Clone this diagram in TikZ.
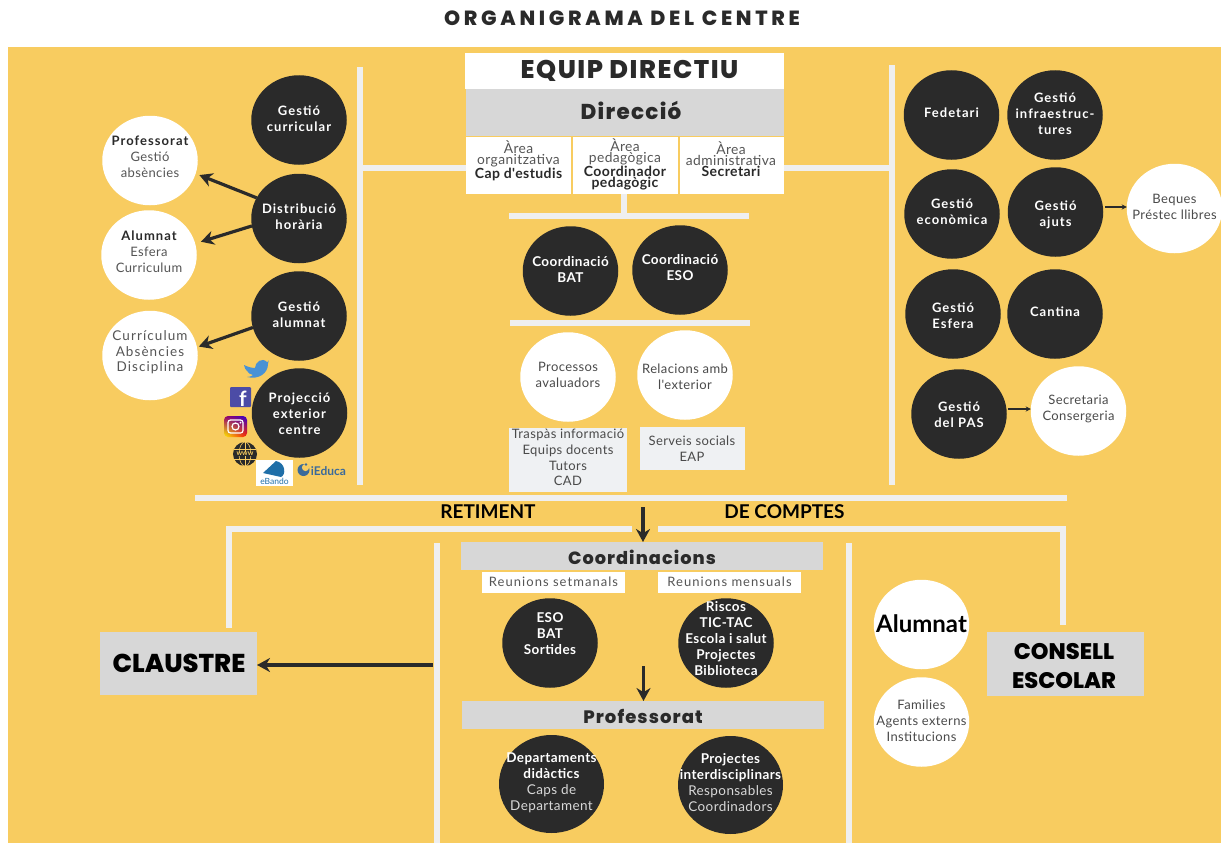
\documentclass[tikz,border=0pt]{standalone}
\usepackage{fontspec}
\setmainfont{Lato}
\newfontfamily\spaced[LetterSpace=8]{Lato}
\newfontfamily\body[LetterSpace=3]{Lato}
\newfontfamily\heavy[BoldFont={Poppins ExtraBold}]{Poppins}
\newfontfamily\heavysp[LetterSpace=6,BoldFont={Poppins ExtraBold}]{Poppins}
\newfontfamily\heavytt[LetterSpace=18,BoldFont={Poppins ExtraBold}]{Poppins}
\usetikzlibrary{arrows.meta,shadings,shapes.geometric}
\definecolor{bgy}{HTML}{F8CC60}
\definecolor{dark}{HTML}{2A2A2A}
\definecolor{barc}{HTML}{EFEFEF}
\definecolor{grayb}{HTML}{D7D7D7}
\definecolor{pale}{HTML}{EFF1F3}
\definecolor{soft}{HTML}{555555}
\definecolor{softw}{HTML}{D8D8D8}
\definecolor{ebl}{HTML}{1F6FA8}
\definecolor{ieb}{HTML}{3B6A9A}
\tikzset{
  x=1pt,y=-1pt,
  oval/.style={ellipse,inner sep=0,outer sep=0,minimum width=95.5pt,minimum height=89.5pt},
  dcirc/.style={oval,fill=dark},
  wcirc/.style={oval,fill=white},
  dbig/.style={oval,fill=dark,minimum width=105pt,minimum height=98pt},
  dtxt/.style={align=center,text=white,inner sep=0,font=\fontsize{13}{16}\spaced\bfseries},
  dtxtb/.style={align=center,text=white,inner sep=0,font=\fontsize{13.5}{16}\body\bfseries},
  wtxt/.style={align=center,text=soft,inner sep=0,font=\fontsize{13}{16}\body},
  wsp/.style={align=center,text=soft,inner sep=0,font=\fontsize{13.5}{15.5}\spaced},
  wtxtk/.style={align=center,text=dark!85,inner sep=0,font=\fontsize{13}{16}\body},
  bar/.style={line width=6pt,color=barc},
  thickarr/.style={line width=3.2pt,color=dark,-{Stealth[length=13pt,width=14pt]}},
  thinarr/.style={line width=1.3pt,color=dark,-{Stealth[length=5pt,width=5pt]}},
  lbl/.style={inner sep=0,align=center},
  areat/.style={lbl,font=\fontsize{13.8}{11}\body},
}
% name x y shape textstyle texty text
\newcommand\cnode[7]{%
  \node[#4] (#1) at (#2,#3) {};
  \node[#5] (#1-t) at (#2,#6) {#7};
}
\newcommand\rbox[6]{% name x0 y0 w h fill
  \node[inner sep=0,outer sep=0,fill=#6,minimum width=#4pt,minimum height=#5pt] (#1) at (#2+#4/2,#3+#5/2) {};
}
\newcommand\sft[1]{\textcolor{soft}{#1}}
\newcommand\bdk[1]{\textcolor{dark}{\fontsize{14}{11}\selectfont\bfseries #1}}
\begin{document}
\begin{tikzpicture}
\useasboundingbox (0,0) rectangle (1221,843);
\fill[white] (0,0) rectangle (1221,843);
\fill[bgy] (8,47) rectangle (1221,843);
\node[lbl,text=dark,font=\fontsize{20.5}{22}\heavytt\bfseries] (title) at (622,18) {ORGANIGRAMA DEL CENTRE};

% bars
\coordinate (hl) at (360,168); \coordinate (hr) at (892,168);
\coordinate (stem) at (624,216);
\coordinate (ay) at (1100,207); \coordinate (py) at (1010,409);
\draw[bar] (360,67) -- (360,485);
\draw[bar] (892,65) -- (892,485);
\draw[bar] (509,216) -- (749,216);
\draw[bar] (510,323) -- (750,323);
\draw[bar] (195,498) -- (1067,498);
\draw[bar] (632,529) -- (229,529) -- (229,628);
\draw[bar] (658,529) -- (1063,529) -- (1063,625);
\draw[bar] (436.5,543) -- (436.5,843);
\draw[bar] (849,543) -- (849,843);

% Equip directiu
\rbox{equip}{465}{53}{319}{36}{white}
\node[lbl,text=dark,font=\fontsize{25.5}{27}\heavysp\bfseries] (equip-t) at (629.5,71) {EQUIP DIRECTIU};
\rbox{dir}{466}{89}{318}{47}{grayb}
\node[lbl,text=dark,font=\fontsize{21.5}{23}\heavysp\bfseries] (dir-t) at (631,110) {Direcció};
\rbox{a1}{466}{137}{105}{57}{white}
\rbox{a2}{573}{137}{105}{57}{white}
\rbox{a3}{679.5}{137}{104.5}{57}{white}
\node[areat] (a1-t) at (518.5,161) {\sft{Àrea}\\\sft{organitzativa}\\\bdk{Cap d'estudis}};
\node[areat] (a2-t) at (625,164.5) {\sft{Àrea}\\\sft{pedagògica}\\\bdk{Coordinador}\\\bdk{pedagògic}};
\node[areat] (a3-t) at (731,159) {\sft{Àrea}\\\sft{administrativa}\\\bdk{Secretari}};
\draw[bar] (a1.west|-hl) -- (hl);
\draw[bar] (a3.east|-hr) -- (hr);
\draw[bar] (stem|-a2.south) -- (stem);

% left circles
\cnode{gc}{299}{120}{dcirc}{dtxt}{119}{Gestió\\curricular}
\cnode{dh}{299}{218.5}{dcirc}{dtxt}{217}{Distribució\\horària}
\cnode{ga}{299}{316}{dcirc}{dtxt}{315}{Gestió\\alumnat}
\cnode{pe}{299.5}{413}{dcirc}{dtxt}{413.5}{Projecció\\exterior\\centre}
\cnode{pf}{150}{160.5}{wcirc}{wtxt}{157}{\textcolor{dark}{\spaced\bfseries Professorat}\\Gestió\\absències}
\cnode{al}{149}{255}{wcirc}{wtxt}{251.5}{\textcolor{dark}{\spaced\bfseries Alumnat}\\Esfera\\Curriculum}
\cnode{cu}{150}{355.5}{wcirc}{wsp}{352.5}{Currículum\\Absències\\Disciplina}
\draw[thickarr,shorten >=4pt] (dh.154) -- (pf.344);
\draw[thickarr,shorten >=6pt] (dh.189) -- (al.14);
\draw[thickarr,shorten >=2pt] (ga.194) -- (cu.10);

% icons
\fill[cyan!60!blue!75!white] (244,365) .. controls (248,367) and (252,368) .. (255,368)
  .. controls (255,362) and (262,357) .. (267,362) .. controls (268,362) and (270,361) .. (268,360)
  .. controls (269,361) and (268,363) .. (268,364) .. controls (268,373) and (259,380) .. (247,377)
  .. controls (250,377) and (252,376) .. (253,375) .. controls (250,375) and (248,372) .. (248,372)
  .. controls (246,370) and (244,368) .. (244,365) -- cycle;
\fill[blue!50!black!70!white,rounded corners=1pt] (230,387) rectangle (251,407);
\node[lbl,text=white,font=\fontsize{21}{21}\selectfont\bfseries] (fb) at (243,399) {f};
\shade[rounded corners=4pt,lower left=yellow!90!orange,lower right=red!80!orange,upper right=blue!60!violet,upper left=violet!80!red] (224,416) rectangle (247,437);
\draw[white,line width=1.2pt,rounded corners=2.5pt] (228,420) rectangle (243,433);
\draw[white,line width=1.2pt] (235.5,426.5) circle (3.5);
\fill[white] (240.5,422.5) circle (1);
\fill[dark] (245,454) circle (12);
\begin{scope}[bgy,line width=.6pt]
\draw (245,442) -- (245,466); \draw (234,449) -- (256,449); \draw (234,459) -- (256,459);
\draw (245,454) ellipse (6 and 12);
\end{scope}
\node[lbl,text=bgy,font=\fontsize{7}{7}\selectfont\bfseries,fill=dark] (www) at (245,454) {www};
\rbox{eb}{256}{460}{37}{26}{white}
\fill[ebl] (263,473) -- (276,461) .. controls (286,463) and (286,475) .. (281,477) -- cycle;
\node[lbl,text=ebl,font=\fontsize{8.5}{8}\selectfont] (eb-t) at (274.5,481) {eBando};
\fill[ieb] (303.5,470) circle (6);
\fill[bgy] (305.5,467.5) circle (3.6);
\fill[ieb] (306,464.5) circle (1.3);
\node[lbl,text=ieb,font=\fontsize{12}{12}\selectfont\bfseries] (ie) at (328.5,471) {iEduca};

% right circles
\cnode{fe}{951.5}{115}{dcirc}{dtxt}{113}{Fedetari}
\cnode{in}{1055}{115}{dcirc}{dtxt}{113.5}{Gestió\\infraestruc-\\tures}
\cnode{ec}{952}{214}{dcirc}{dtxt}{212}{Gestió\\econòmica}
\cnode{aj}{1055.5}{212}{dcirc}{dtxt}{215}{Gestió\\ajuts}
\cnode{be}{1174.5}{208.5}{wcirc}{wtxtk}{207}{Beques\\Préstec llibres}
\cnode{es}{953}{314}{dcirc}{dtxt}{316}{Gestió\\Esfera}
\cnode{ca}{1055}{314}{dcirc}{dtxt}{312}{Cantina}
\cnode{pa}{959}{414}{dcirc}{dtxt}{415}{Gestió\\del PAS}
\cnode{se}{1078.5}{411}{wcirc}{wtxtk}{409}{Secretaria\\Consergeria}
\draw[thinarr,shorten <=2pt] (aj.east|-ay) -- (be.west|-ay);
\draw[thinarr,shorten <=1pt] (pa.east|-py) -- (se.west|-py);

% centre circles
\cnode{cb}{570.5}{271}{dcirc}{dtxtb}{269}{Coordinació\\BAT}
\cnode{ce}{680}{270}{dcirc}{dtxtb}{268}{Coordinació\\ESO}
\cnode{pr}{568}{377}{wcirc}{wtxtk}{375}{Processos\\avaluadors}
\cnode{re}{685}{375}{wcirc}{wtxtk}{376.5}{Relacions amb\\l'exterior}
\rbox{tr}{509}{428}{118}{64}{pale}
\rbox{ss}{640}{427}{105}{43}{pale}
\node[wtxtk,font=\fontsize{13}{15.7}\body] (tr-t) at (568,457.5) {Traspàs informació\\Equips docents\\Tutors\\CAD};
\node[wtxtk,font=\fontsize{13}{15.5}\body] (ss-t) at (692,448.5) {Serveis socials\\EAP};

% bottom
\node[lbl,text=black,font=\fontsize{19}{21}\selectfont\bfseries] (ret) at (488,512) {RETIMENT};
\node[lbl,text=black,font=\fontsize{19}{21}\selectfont\bfseries] (dec) at (784.5,512) {DE COMPTES};
\coordinate (arrtop) at (643,507);
\coordinate (vl) at (433,665);
\rbox{coo}{461}{542}{362}{28}{grayb}
\node[lbl,text=dark,font=\fontsize{17.7}{19}\heavysp\bfseries] (coo-t) at (642,557) {Coordinacions};
\rbox{rs}{482}{572}{143}{21}{white}
\node[wtxt,font=\fontsize{13}{16}\spaced] (rs-t) at (553.5,582) {Reunions setmanals};
\rbox{rm}{658}{572}{143}{21}{white}
\node[wtxt,font=\fontsize{13}{16}\spaced] (rm-t) at (729.5,582) {Reunions mensuals};
\draw[thickarr] (arrtop) -- (coo.north-|arrtop);
\cnode{eb2}{550}{643}{dcirc}{dtxtb}{634}{ESO\\BAT\\Sortides}
\cnode{ri}{726}{643}{dcirc}{dtxtb}{638.5}{Riscos\\TIC-TAC\\Escola i salut\\Projectes\\Biblioteca}
\rbox{pro}{462}{701}{362}{28}{grayb}
\node[lbl,text=dark,font=\fontsize{18}{19}\heavysp\bfseries] (pro-t) at (643,716) {Professorat};
\coordinate (arrmid) at (643.5,666);
\draw[thickarr] (arrmid) -- (pro.north-|arrmid);
\cnode{de}{551.5}{784}{dbig}{dtxtb}{782.5}{Departaments\\didàctics\\\textcolor{softw}{\mdseries Caps de}\\\textcolor{softw}{\mdseries Departament}}
\cnode{pj}{730.5}{785}{dbig}{dtxtb}{783}{Projectes\\interdisciplinars\\\textcolor{softw}{\mdseries Responsables}\\\textcolor{softw}{\mdseries Coordinadors}}
\rbox{cl}{100}{632}{157}{63}{grayb}
\node[lbl,text=black,font=\fontsize{25.8}{27}\heavy\bfseries] (cl-t) at (179,663) {CLAUSTRE};
\rbox{co}{987}{632}{157}{64}{grayb}
\node[lbl,text=black,font=\fontsize{22.5}{29}\heavy\bfseries] (co-t) at (1064,666.5) {CONSELL\\ESCOLAR};
\draw[thickarr] (vl) -- (cl.east|-vl);
\cnode{am}{921.5}{624.5}{wcirc}{lbl,text=black,font=\fontsize{24}{26}\selectfont\bfseries}{624}{Alumnat}
\cnode{fa}{921.5}{722}{wcirc}{wtxtk}{721}{Families\\Agents externs\\Institucions}
\end{tikzpicture}
\end{document}
